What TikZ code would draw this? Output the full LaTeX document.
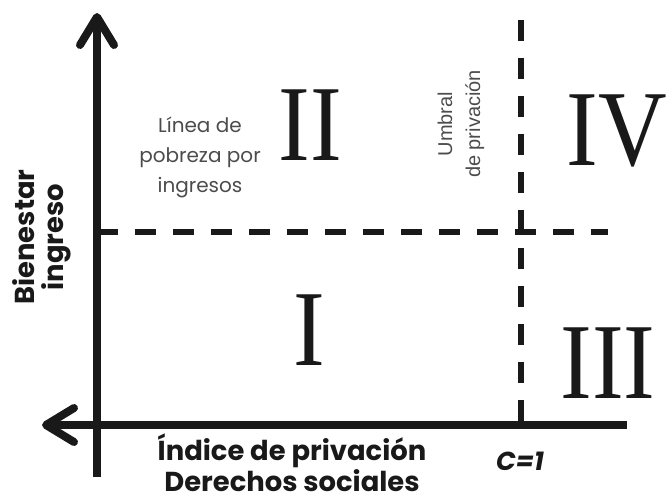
\documentclass[tikz,border=0pt]{standalone}
\usepackage{fontspec}
\newfontfamily\rotulo{Poppins}
\newfontfamily\umbralletra{Liberation Sans}
\newfontfamily\romano[FakeStretch=0.88]{Liberation Serif}
\usetikzlibrary{arrows.meta}

\tikzset{
 eje/.style={line width=4pt, color=black!90,
   -{Straight Barb[length=14pt,width=17pt,round]}},
 corte/.style={line width=2.6pt, color=black!90, dash pattern=on 10.5pt off 8.5pt},
 cuadrante/.style={inner sep=0pt, color=black!90, font=\romano\fontsize{54}{54}\selectfont},
 titulo/.style={align=center, color=black!90, font=\rotulo\bfseries\fontsize{13.7}{14.5}\selectfont},
 nota/.style={align=center, color=black!70, font=\rotulo\fontsize{10}{15}\selectfont}
}

\begin{document}
\begin{tikzpicture}[x=0.5pt,y=-0.5pt]
 \useasboundingbox (0,0) rectangle (667,502);

 \coordinate (ybot) at (97,477);
 \coordinate (ytop) at (97,13);
 \coordinate (xder) at (627,425);
 \coordinate (xizq) at (42,425);
 \coordinate (umbralsup) at (521,20);
 \coordinate (umbralinf) at (521,425);
 \coordinate (lineaizq) at (97,232);
 \coordinate (lineader) at (608,232);

 % umbrales
 \draw [corte] (umbralsup) -- (umbralinf);
 \draw [corte] (lineaizq) -- (lineader);

 % ejes
 \draw [eje] (ybot) -- (ytop);
 \draw [eje] (xder) -- (xizq);

 \node [cuadrante] (dos) at (310,125) {II};
 \node [cuadrante, anchor=west] (cuatro) at (566,131) {IV};
 \node [cuadrante] (uno) at (309,330) {I};
 \node [cuadrante] (tres) at (608,363) {III};

 \node [nota] (pobreza) at (200,157) {Línea de\\pobreza por\\ingresos};
 \node [nota, rotate=90, font=\umbralletra\fontsize{10}{14}\selectfont] (privacion) at (461,124) {Umbral\\de privación};

 \node [titulo, rotate=90] (bienestar) at (42,237) {Bienestar\\ingreso};
 \node [titulo, inner sep=0pt] (indice) at (292,463) {Índice de privación\\Derechos sociales};
 \node [titulo, font=\rotulo\bfseries\itshape\fontsize{13}{15}\selectfont] (c) at (520,461) {C=1};
\end{tikzpicture}
\end{document}
